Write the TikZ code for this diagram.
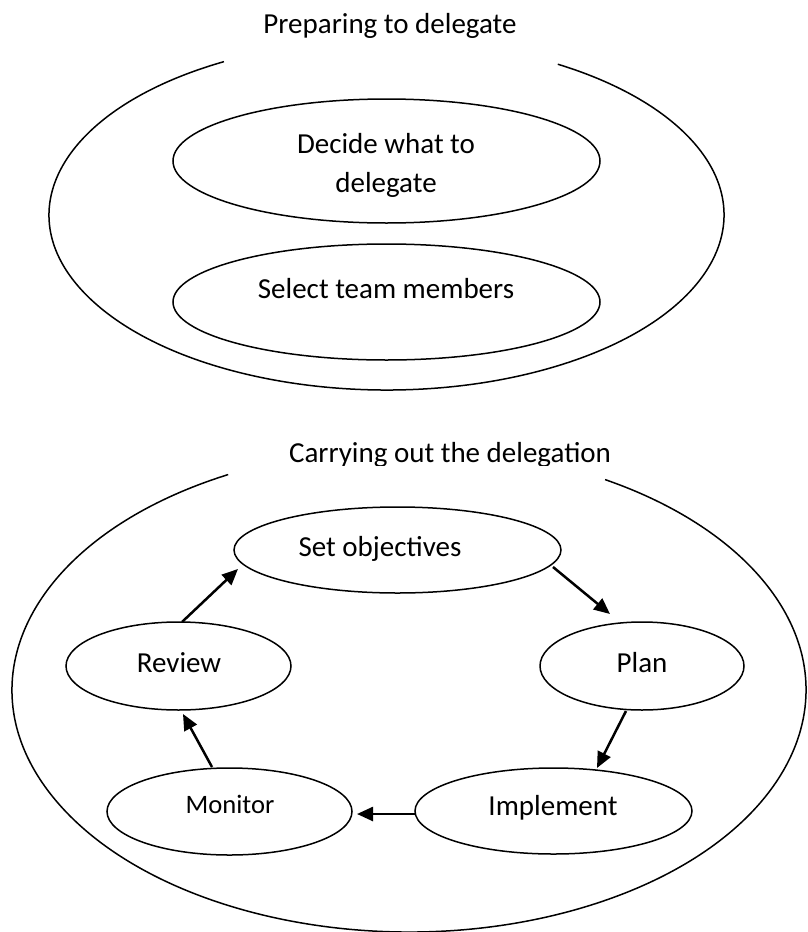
\documentclass[tikz,border=0pt]{standalone}
\usepackage{fontspec}
\setmainfont{Carlito}
\usetikzlibrary{arrows.meta,calc,shapes.geometric}
\begin{document}
\begin{tikzpicture}[x=0.5pt,y=0.5pt,
  ell/.style={draw,ellipse,line width=0.75pt,inner sep=0pt,outer sep=0pt},
  lbl/.style={anchor=base,inner sep=0pt,font=\fontsize{14.5}{17}\selectfont},
  lblsmall/.style={anchor=base,inner sep=0pt,font=\fontsize{13.3}{16}\selectfont},
  outer/.style={line width=0.75pt},
  arr/.style={line width=1.25pt,-{Triangle[length=8pt,width=7pt]}}]
\useasboundingbox (0,0) rectangle (808,-932);

% outer ellipses (open at the top)
\draw[outer] (386.5,-215) ++(118.8:337.5 and 175)
  arc[start angle=118.8,end angle=419.5,x radius=337.5,y radius=175];
\draw[outer] (409,-690) ++(117.1:397 and 242)
  arc[start angle=117.1,end angle=420.4,x radius=397,y radius=242];

% titles
\node[lbl] (title1) at (390,-33) {Preparing to delegate};
\begin{scope}
\clip (200,-400) rectangle (700,-465);
\node[lbl] (title2) at (450,-462) {Carrying out the delegation};
\end{scope}

% top ellipses
\node[ell,minimum width=213.5pt,minimum height=62pt] (decide) at (386.5,-161) {};
\node[ell,minimum width=213.5pt,minimum height=58pt] (select) at (386.5,-302) {};
\node[lbl] (decidea) at (386,-153) {Decide what to};
\begin{scope}
\clip (250,-160) rectangle (520,-197);
\node[lbl] (decideb) at (386,-192) {delegate};
\end{scope}
\node[lbl] (selecttxt) at (386,-298) {Select team members};

% cycle ellipses
\node[ell,minimum width=163.5pt,minimum height=43pt] (setobj) at (397.5,-550) {};
\node[ell,minimum width=112.5pt,minimum height=44pt] (review) at (178.5,-666) {};
\node[ell,minimum width=102pt,minimum height=44pt] (plan) at (642,-666) {};
\node[ell,minimum width=122.5pt,minimum height=43.5pt] (monitor) at (229.5,-811.5) {};
\node[ell,minimum width=138.5pt,minimum height=43pt] (implement) at (553.5,-811) {};

\node[lbl] (settxt) at (380,-556) {Set objectives};
\node[lbl] (reviewtxt) at (179,-672) {Review};
\node[lbl] (plantxt) at (642,-672) {Plan};
\node[lblsmall] (monitortxt) at (230,-813) {Monitor};
\node[lbl] (implementtxt) at (553,-815) {Implement};

% arrows
\draw[arr] ($(review.center)+(3.5,44)$) -- ($(setobj.center)+(-159.5,-19)$);
\draw[arr] ($(setobj.center)+(155.5,-17)$) -- ($(plan.center)+(-32,52)$);
\draw[arr] ($(plan.center)+(-16,-45)$) -- ($(implement.center)+(43.5,43)$);
\draw[arr] ($(implement.center)+(-138.5,-3)$) -- ($(monitor.center)+(127.5,-2.5)$);
\draw[arr] ($(monitor.center)+(-17.5,44.5)$) -- ($(review.center)+(4.5,-48)$);
\end{tikzpicture}
\end{document}
